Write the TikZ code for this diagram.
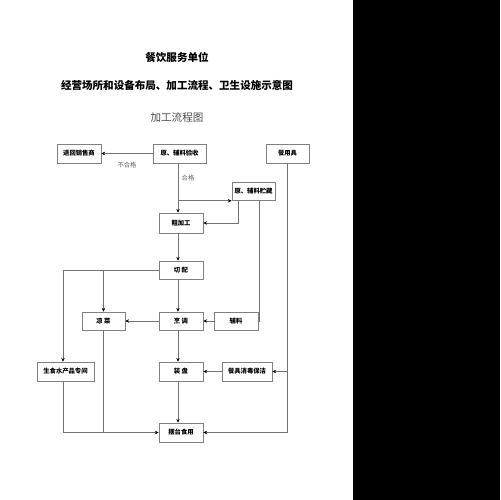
\documentclass[tikz,border=0pt]{standalone}
\usepackage{fontspec}
\setmainfont{Noto Sans CJK SC}
\usetikzlibrary{calc,arrows.meta}
\def\boxfont{\fontsize{3.6}{4}\selectfont\bfseries}
\def\titlefont{\fontsize{6}{7}\selectfont\bfseries}

\begin{document}
\begin{tikzpicture}[x=0.02cm, y=-0.02cm,
	stepbox/.style={draw=black!50, line width=0.3pt, minimum width=0.88cm, minimum height=0.38cm, inner sep=0pt, font=\boxfont},
	flow/.style={draw=black!55, line width=0.4pt, -{Stealth[length=2.2pt, width=2pt, color=black]}},
	plain/.style={draw=black!55, line width=0.4pt},
	tag/.style={text=black!60, font=\fontsize{3.6}{4}\selectfont}]
			%%%%% START %%%%%
			
			\useasboundingbox (0, 0) rectangle (500, 500);
			\fill[white] (0, 0) rectangle (500, 500);
			\fill[black] (353, 0) rectangle (500, 500);
			
			\node[font=\titlefont] (title) at (177, 57) {餐饮服务单位};
			\node[font=\titlefont] (subtitle) at (177, 85) {经营场所和设备布局、加工流程、卫生设施示意图};
			\node[font=\fontsize{6}{7}\selectfont, text=black!70] (heading) at (177, 117) {加工流程图};
			
			\node[stepbox] (tuihui) at (79, 153.5) {退回销售商};
			\node[stepbox, minimum width=1.06cm] (yanshou) at (179.5, 153.5) {原、辅料验收};
			\node[stepbox, minimum width=0.86cm] (canyongju) at (287.5, 153.5) {餐用具};
			\node[stepbox, minimum width=0.86cm, minimum height=0.36cm] (zhucang) at (253.5, 191) {原、辅料贮藏};
			\node[stepbox, minimum height=0.4cm] (cujiagong) at (181, 223) {粗加工};
			\node[stepbox, minimum height=0.36cm] (qiepei) at (181, 270) {切\ 配};
			\node[stepbox, minimum width=0.86cm, minimum height=0.36cm] (liangcai) at (103.5, 321) {凉\ 菜};
			\node[stepbox, minimum height=0.36cm] (pengtiao) at (181, 321) {烹\ 调};
			\node[stepbox, minimum height=0.36cm] (fuliao) at (236, 321) {辅料};
			\node[stepbox, minimum width=1.14cm] (shengshi) at (65.5, 371.5) {生食水产品专间};
			\node[stepbox] (zhuangpan) at (181, 371.5) {装\ 盘};
			\node[stepbox, minimum width=1.0cm] (xiaodu) at (247, 371.5) {餐具消毒保洁};
			\node[stepbox] (baitai) at (181, 432.5) {摆台食用};
			
			\coordinate (hege) at ($(yanshou.south)+(-1.5, 37.5)$);
			
			\draw[flow] (yanshou.west) -- node[tag, below=1.5pt] {不合格} (tuihui.east);
			\draw[flow] ($(yanshou.south)+(-1.5, 0)$) -- ($(cujiagong.north)+(-3, 0)$);
			\node[tag] at (188, 178) {合格};
			\draw[flow] (hege) -- (hege -| zhucang.west);
			\draw[flow] ($(zhucang.south)+(-15.5, 0)$) |- (cujiagong.east);
			\draw[plain] ($(zhucang.south)+(5.5, 0)$) |- (fuliao.east);
			\draw[flow] ($(cujiagong.south)+(-3, 0)$) -- ($(qiepei.north)+(-3, 0)$);
			
			\draw[flow] (qiepei.west) -| ($(shengshi.north)+(-2.5, 0)$);
			\draw[flow] (liangcai.north |- qiepei.west) -- (liangcai.north);
			\draw[flow] ($(qiepei.south)+(-3, 0)$) -- ($(pengtiao.north)+(-3, 0)$);
			\draw[flow] (fuliao.west) -- (pengtiao.east);
			\draw[flow] (pengtiao.west) -- (liangcai.east);
			\draw[flow] ($(pengtiao.south)+(-3, 0)$) -- ($(zhuangpan.north)+(-3, 0)$);
			\draw[flow] (xiaodu.west) -- (zhuangpan.east);
			\draw[flow] ($(zhuangpan.south)+(-3, 0)$) -- ($(baitai.north)+(-3, 0)$);
			
			\draw[flow] (canyongju.south) |- (baitai.east);
			\draw[flow] (canyongju.south |- xiaodu.east) -- (xiaodu.east);
			\draw[flow] ($(shengshi.south)+(-2.5, 0)$) |- (baitai.west);
			\draw[plain] (liangcai.south) -- (liangcai.south |- baitai.west);
			
			%%%%% END %%%%%
\end{tikzpicture}
\end{document}
